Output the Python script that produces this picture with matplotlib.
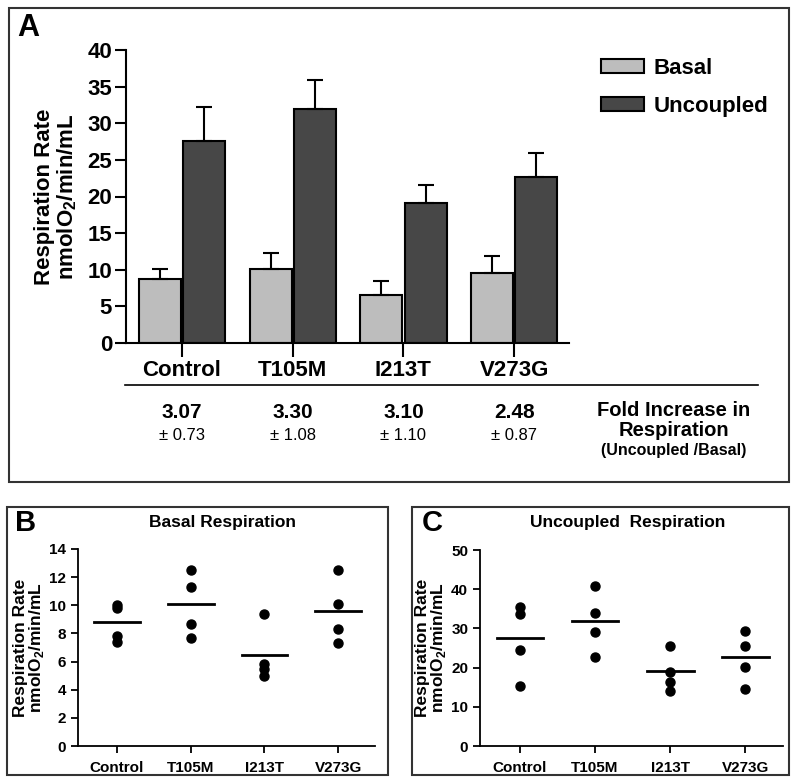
import matplotlib
matplotlib.use("Agg")
from matplotlib import pyplot as plt
from matplotlib import transforms
from matplotlib.patches import Rectangle
from matplotlib.lines import Line2D
import numpy as np

# datos
grupos = ["Control", "T105M", "I213T", "V273G"]
basal = [8.8, 10.1, 6.5, 9.6]
basal_err = [1.3, 2.2, 2.0, 2.3]
uncoupled = [27.6, 32.0, 19.1, 22.7]
uncoupled_err = [4.6, 3.9, 2.5, 3.2]
fold_mean = [3.07, 3.30, 3.10, 2.48]
fold_sd = [0.73, 1.08, 1.10, 0.87]

basal_pts = [[10.0, 9.8, 7.8, 7.4],
             [12.5, 11.3, 8.7, 7.7],
             [9.4, 5.8, 5.5, 5.0],
             [12.5, 10.1, 8.3, 7.3]]
uncoupled_pts = [[35.5, 33.6, 24.4, 15.3],
                 [40.9, 34.0, 29.2, 22.7],
                 [25.6, 19.0, 16.2, 14.1],
                 [29.3, 25.4, 20.1, 14.6]]

W, H = 800, 783
SANS = ["Liberation Sans", "DejaVu Sans"]
plt.rcParams['font.family'] = SANS
plt.rcParams['mathtext.fontset'] = 'custom'
plt.rcParams['mathtext.rm'] = 'Liberation Sans:bold'
plt.rcParams['mathtext.bf'] = 'Liberation Sans:bold'

fig = plt.figure(figsize=(W / 100, H / 100), dpi=100)


def caja(px0, py0, px1, py1):
    # rectangulo en pixeles
    fig.patches.append(Rectangle((px0 / W, 1 - py1 / H), (px1 - px0) / W, (py1 - py0) / H,
                                 transform=fig.transFigure, fill=False,
                                 edgecolor="#333333", linewidth=1.5))


def ejes(px0, py0, px1, py1):
    return fig.add_axes([px0 / W, 1 - py1 / H, (px1 - px0) / W, (py1 - py0) / H])


# ---------------- Panel A ----------------
caja(9, 8, 789, 482)
axA = ejes(126, 50, 569, 343)
x = np.arange(len(grupos))
ancho = 0.38
errkw = dict(ecolor="black", elinewidth=1.5, capsize=6, capthick=1.5)
b1 = axA.bar(x - 0.2, basal, ancho, color="#bdbdbd", edgecolor="black", linewidth=1.5,
             yerr=[np.zeros(4), basal_err], error_kw=errkw, zorder=2)
b2 = axA.bar(x + 0.2, uncoupled, ancho, color="#474747", edgecolor="black", linewidth=1.5,
             yerr=[np.zeros(4), uncoupled_err], error_kw=errkw, zorder=2)
axA.set_xlim(-0.506, 3.496)
axA.set_ylim(0, 40)
axA.set_yticks(np.arange(0, 41, 5))
axA.set_xticks(x)
axA.set_xticklabels(grupos, fontsize=16, fontweight="bold")
for s in ["top", "right"]:
    axA.spines[s].set_visible(False)
for s in ["left", "bottom"]:
    axA.spines[s].set_linewidth(1.5)
axA.tick_params(axis="y", length=8, width=1.5, labelsize=16, pad=2)
axA.tick_params(axis="x", length=10, width=1.5, pad=2)
for t in axA.get_yticklabels():
    t.set_fontweight("bold")
axA.set_ylabel("Respiration Rate\nnmolO$_2$/min/mL", fontsize=16, fontweight="bold", labelpad=6, linespacing=1.0)
h1 = Rectangle((0, 0), 1, 1, facecolor="#bdbdbd", edgecolor="black", linewidth=1.5)
h2 = Rectangle((0, 0), 1, 1, facecolor="#474747", edgecolor="black", linewidth=1.5)
fig.legend(handles=[h1, h2], labels=["Basal", "Uncoupled"], loc="upper left",
           bbox_to_anchor=(601 / W, 1 - 58 / H), frameon=False,
           prop=dict(weight="bold", size=16), handlelength=1.95, handleheight=0.6,
           labelspacing=0.75, handletextpad=0.4, borderpad=0, borderaxespad=0)
fig.text(17 / W, 1 - 28 / H, "A", fontsize=22, fontweight="bold", va="center", ha="left")

fig.lines.append(Line2D([125 / W, 758 / W], [1 - 385 / H, 1 - 385 / H], transform=fig.transFigure,
                        color="black", linewidth=1.2))
tr = transforms.blended_transform_factory(axA.transData, fig.transFigure)
for i in range(4):
    axA.text(x[i], 1 - 413 / H, f"{fold_mean[i]:.2f}", transform=tr, ha="center", va="center",
             fontsize=15, fontweight="bold")
    axA.text(x[i], 1 - 435 / H, f"\u00b1 {fold_sd[i]:.2f}", transform=tr, ha="center", va="center",
             fontsize=12)
fig.text(674 / W, 1 - 411 / H, "Fold Increase in", ha="center", va="center", fontsize=14.5, fontweight="bold")
fig.text(674 / W, 1 - 431 / H, "Respiration", ha="center", va="center", fontsize=14.5, fontweight="bold")
fig.text(674 / W, 1 - 451 / H, "(Uncoupled /Basal)", ha="center", va="center", fontsize=11.5, fontweight="bold")


# ---------------- Paneles B y C ----------------
def dispersion(ax, pts, medias, ymax, paso):
    for i in range(4):
        ax.plot([x[i]] * len(pts[i]), pts[i], "o", color="black", markersize=6.5, zorder=3)
        ax.plot([x[i] - 0.31, x[i] + 0.31], [medias[i], medias[i]], color="black", linewidth=2)
    ax.set_xlim(-0.53, 3.5)
    ax.set_ylim(0, ymax)
    ax.set_yticks(np.arange(0, ymax + 1, paso))
    ax.set_xticks(x)
    ax.set_xticklabels(grupos, fontsize=11, fontweight="bold")
    for s in ["top", "right"]:
        ax.spines[s].set_visible(False)
    for s in ["left", "bottom"]:
        ax.spines[s].set_linewidth(1.3)
    ax.tick_params(axis="both", length=5, width=1.3, labelsize=11)
    ax.tick_params(axis="x", pad=6)
    for t in ax.get_yticklabels():
        t.set_fontweight("bold")
    ax.set_ylabel("Respiration Rate\nnmolO$_2$/min/mL", fontsize=12.5, fontweight="bold", labelpad=2,
                  linespacing=0.95)


caja(7, 507, 388, 775)
axB = ejes(78, 549, 375, 746)
dispersion(axB, basal_pts, basal, 14, 2)
fig.text(222 / W, 1 - 522 / H, "Basal Respiration", ha="center", va="center", fontsize=12.5, fontweight="bold")
fig.text(15 / W, 1 - 523 / H, "B", fontsize=21, fontweight="bold", va="center", ha="left")

caja(412, 507, 789, 775)
axC = ejes(480, 550, 783, 746)
dispersion(axC, uncoupled_pts, uncoupled, 50, 10)
fig.text(628 / W, 1 - 522 / H, "Uncoupled  Respiration", ha="center", va="center", fontsize=12.5,
         fontweight="bold")
fig.text(422 / W, 1 - 523 / H, "C", fontsize=21, fontweight="bold", va="center", ha="left")

fig.savefig("out.png", dpi=100)
